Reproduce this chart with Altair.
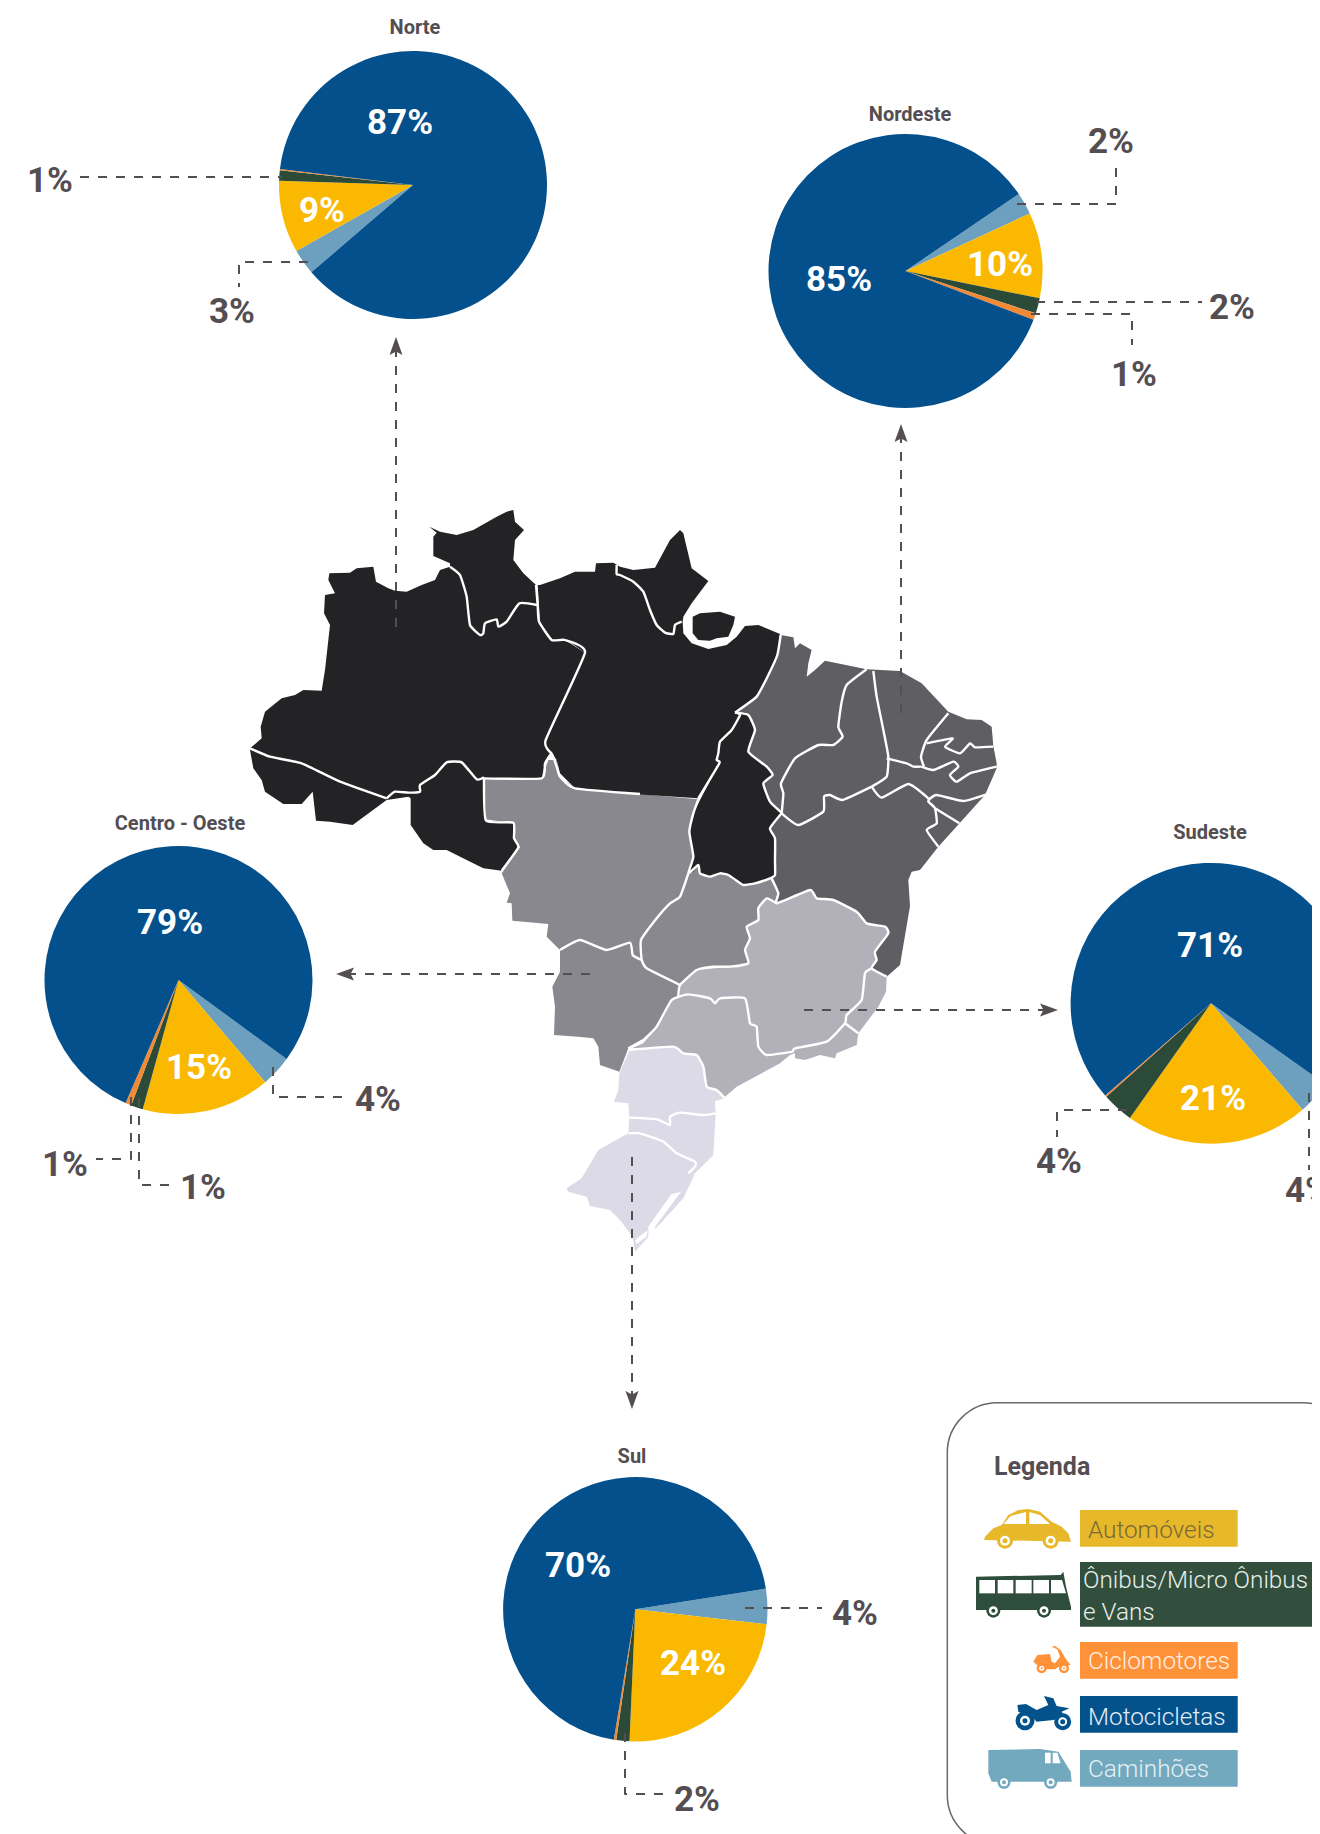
import math
import altair as alt
import pandas as pd

# ---------- colours ----------
BLUE, LIGHT, YELLOW, DARK, ORANGE = "#03508C", "#6DA0BF", "#FAB900", "#2C4A38", "#F08A35"
GREY = "#544E52"
C_NORTE, C_NE, C_CO, C_SE, C_SUL = "#232325", "#5F5E63", "#89888E", "#B2B1B9", "#DBDAE6"

# ---------- pies: shares clockwise, Caminhões, Automóveis, Ônibus, Ciclomotores, Motocicletas ----------
SLICE_COLORS = [LIGHT, YELLOW, DARK, ORANGE, BLUE]
REGIONS = ["Norte", "Nordeste", "Centro - Oeste", "Sudeste", "Sul"]
CENTER_X = [413, 905.5, 178.5, 1211, 635.3]
CENTER_Y = [185, 271, 980, 1003.3, 1609.3]
RADIUS = [134, 137, 134, 140.4, 132.2]
START_PCT = [63.7, 15.5, 35.05, 34.8, 22.5]
SHARES = [
    [3.1, 8.7, 1.25, 0.15, 86.8],
    [2.6, 10.1, 1.8, 0.8, 84.7],
    [3.75, 15.5, 1.44, 0.72, 78.59],
    [3.9, 21.1, 3.6, 0.2, 71.2],
    [4.3, 23.9, 1.6, 0.3, 69.9],
]

# ---------- titles and labels (text, x, y) ----------
TITLES = [("Norte", 415, 27), ("Nordeste", 910, 114), ("Centro - Oeste", 180, 823), ("Sudeste", 1210, 832), ("Sul", 632, 1456)]
WHITE_LABELS = [("87%", 400, 120), ("9%", 322, 208), ("85%", 839, 277), ("10%", 1000, 262), ("79%", 170, 920),
                ("15%", 199, 1065), ("71%", 1210, 943), ("21%", 1213, 1096), ("70%", 578, 1563), ("24%", 693, 1661)]
GREY_LABELS = [("1%", 50, 178), ("3%", 232, 309), ("2%", 1111, 139), ("2%", 1232, 305), ("1%", 1134, 372),
               ("4%", 378, 1097), ("1%", 65, 1162), ("1%", 203, 1185), ("4%", 1059, 1159), ("4%", 1308, 1188),
               ("4%", 855, 1611), ("2%", 697, 1797)]

# ---------- leader lines ----------
LEADERS = [
    [(80, 177), (282, 177)],
    [(308, 262), (239, 262), (239, 287)],
    [(1017, 204), (1116, 204), (1116, 160)],
    [(1036, 302), (1202, 302)],
    [(1031, 314), (1132, 314), (1132, 345)],
    [(273, 1067), (273, 1097), (342, 1097)],
    [(131, 1097), (131, 1159), (96, 1159)],
    [(139, 1098), (139, 1185), (173, 1185)],
    [(1127, 1110), (1057, 1110), (1057, 1137)],
    [(1309, 1093), (1309, 1170)],
    [(745, 1608), (822, 1608)],
    [(625, 1733), (625, 1794), (667, 1794)],
    [(396, 627), (396, 345)],
    [(901, 713), (901, 432)],
    [(590, 974), (344, 974)],
    [(804, 1010), (1050, 1010)],
    [(632, 1157), (632, 1401)],
]
# arrow heads: x, y, angle
ARROWS = [(396, 346, 0), (901, 433, 0), (345, 974, 270), (1049, 1010, 90), (632, 1400, 180)]
ARROW_SHAPE = "M0,-1 L0.72,1 L0,0.62 L-0.72,1 Z"

# ---------- map (crop coordinates at 3x) ----------
Z1, Z2, Z3, Z4, Z5 = (240, 500), (620, 500), (480, 760), (540, 1020), (940, 1400)

def at(origin, pts):
    return [[origin[0] + p[0] / 3, origin[1] + p[1] / 3] for p in pts]

NORTE_WEST = [(30,745),(65,715),(62,680),(75,635),(125,595),(165,585),(190,570),(245,572),(255,510),(270,375),(252,340),(255,285),(285,280),(265,240),(268,220),(330,218),(350,205),(400,200),(408,245),(445,265),(465,272),(500,275),(545,255),(585,240),(600,210),(630,200),(630,190),(580,168),(580,110),(590,98),(568,80),(600,95),(650,105),(700,90),(770,50),(800,35),(820,30),(825,65),(852,90),(825,120),(820,180),(850,220),(888,255),(893,315),(897,365),(935,420),(975,420),(1035,458),(920,720),(935,760),(915,790),(905,835),(732,835),(738,962),(820,968),(822,1015),(835,1042),(785,1112),(730,1105),(680,1080),(620,1050),(580,1050),(550,1030),(512,975),(512,895),(505,890),(440,900),(338,975),(270,965),(228,962),(218,875),(185,912),(130,912),(75,875),(65,840),(40,805),(30,750)]
NORTE_PARA = [(-247,255),(-240,255),(-180,235),(-135,215),(-75,215),(-72,190),(-20,188),(0,200),(40,210),(105,203),(150,120),(180,90),(190,100),(215,205),(265,243),(215,310),(190,350),(188,365),(190,400),(215,430),(265,447),(320,435),(350,410),(375,378),(415,375),(480,402),(472,465),(445,525),(410,590),(345,638),(360,645),(335,690),(300,725),(295,760),(290,780),(298,790),(235,895),(0,880),(-135,865),(-180,820),(-190,780),(-205,760),(-225,720),(-105,458),(-160,420),(-205,420),(-240,365)]
MARAJO = [(218,350),(240,340),(300,335),(345,350),(340,375),(325,410),(290,415),(270,422),(235,420),(218,400)]
TOCANTINS_N = [(345,638),(385,645),(405,690),(385,755),(440,800),(458,825),(430,850),(450,905),(487,940)]
TOCANTINS_S = [(870,205),(885,235),(885,300),(885,345),(870,355),(825,370),(790,375),(770,362),(745,345),(720,340),(690,350),(660,340),(655,315),(640,335),(625,340),(640,290),(628,215),(640,160),(660,120)]
TOCANTINS_W = [(298,790),(290,780),(295,760),(300,725),(335,690),(360,645)]
NE_COAST = [(482,405),(520,412),(525,445),(540,430),(575,450),(565,490),(560,530),(585,510),(615,482),(740,508),(840,513),(905,550),(985,635),(1040,658),(1085,660),(1115,680),(1120,738),(1130,790),(1130,805),(1095,885),(955,1040),(900,1110),(875,1115),(865,1140)]
NE_BAHIA_ABS = [[910, 906], [900, 965], [886.7, 976.7]]
NE_INLAND_S = [(1175,625),(1190,600),(1185,575),(1225,520),(1215,500),(1160,490),(1130,455),(1060,420),(1010,415),(990,390),(890,430),(895,400),(875,355),(885,345),(885,300),(885,235),(870,205)]
NE_INLAND_N = [(487,940),(450,905),(430,850),(458,825),(440,800),(385,755),(405,690),(385,645),(345,638),(410,590),(445,525),(472,465)]
CO = [(10,55),(185,55),(205,0),(230,0),(240,50),(285,85),(655,118),(640,160),(628,215),(640,290),(625,340),(655,315),(660,340),(690,350),(720,340),(745,345),(770,362),(790,375),(825,370),(870,355),(895,400),(890,430),(860,415),(835,445),(835,480),(800,500),(810,535),(795,570),(805,610),(750,620),(700,620),(650,630),(600,675),(600,710),(570,725),(530,800),(490,840),(445,865),(418,935),(360,915),(355,860),(340,835),(295,830),(222,825),(225,740),(217,680),(240,635),(240,570),(200,530),(205,492),(97,482),(95,430),(80,428),(90,400),(65,340),(120,262),(100,235),(100,190),(15,178)]
SE_N = [(890,430),(990,390),(1010,415),(1060,420),(1130,455),(1160,490),(1215,500),(1225,520),(1185,575),(1190,600),(1175,625),(1220,650),(1218,695),(1195,740),(1135,820),(1130,855),(1070,880),(1065,895),(1020,885),(975,900),(945,895),(945,880),(930,885)]
SE_S = [(720,130),(590,200),(555,230),(530,210),(500,200),(490,140),(470,105),(430,100),(400,80),(275,85),(310,70)]
SE_W = [(530,800),(570,725),(600,710),(600,675),(650,630),(750,620),(805,610),(795,570),(810,535),(800,500),(835,480),(835,445),(860,415)]
SUL_MAIN = [(270,88),(400,80),(430,100),(470,105),(490,140),(500,200),(530,210),(557,235),(525,243),(527,280),(520,405),(465,460),(425,515),(395,522),(360,570),(325,620),(325,650),(285,695),(278,650),(240,600),(210,570),(150,558),(140,530),(85,515),(80,505),(125,475),(175,390),(265,340),(268,295),(265,250),(222,245),(235,210),(238,160)]
SUL_STRIP = [(465,462),(430,535),(345,628),(345,620),(420,520)]
LAGOA = [(285,660),(310,640),(323,632),(320,650),(290,672)]

BORDERS = [
    at(Z1, [(630,200),(660,225),(680,290),(690,375),(720,405),(730,400),(735,370),(770,358),(775,380),(800,365),(838,310),(892,315)]),
    at(Z1, [(888,255),(893,315),(897,365),(935,420),(975,420),(1035,458),(917,720),(935,760)]),
    at(Z1, [(30,745),(90,770),(185,790),(300,845),(440,895)]),
    at(Z1, [(440,895),(465,875),(505,878),(540,875),(540,855),(585,825),(620,787),(665,787),(710,838),(732,832)]),
    at(Z1, [(732,835),(905,835),(915,790),(935,760),(950,800),(960,830),(1005,865),(1200,882)]),
    at(Z1, [(732,835),(738,962),(820,968),(822,1015),(835,1042),(785,1112)]),
    at(Z2, [(-10,195),(-10,222),(0,225),(40,245),(70,275),(90,330),(110,375),(135,398),(160,402),(165,375),(185,365)]),
    at(Z2, [(345,638),(360,645),(335,690),(300,725),(295,760),(290,780),(298,790),(235,895)]),
    at(Z3, [(655,118),(640,160),(628,215),(640,290),(625,340),(655,315),(660,340),(690,350),(720,340),(745,345),(770,362),(790,375),(825,370),(870,355),(885,345),(885,300),(885,235),(870,205),(905,160)]),
    at(Z2, [(345,638),(385,645),(405,690),(385,755),(440,800),(458,825),(430,850),(450,905),(487,940)]),
    at(Z2, [(345,638),(410,590),(445,525),(472,465),(482,405)]),
    at(Z2, [(740,508),(680,555),(665,605),(655,680),(668,710),(640,735),(595,735),(525,775),(483,850),(490,880),(485,940)]),
    at(Z2, [(760,513),(770,590),(790,690),(805,770),(800,830),(755,860)]),
    at(Z2, [(485,940),(535,975),(610,935),(612,890),(630,885),(668,900),(755,860)]),
    at(Z2, [(755,860),(785,893),(865,852),(925,895),(925,905),(945,925),(950,970),(920,990),(955,1040)]),
    at(Z2, [(925,900),(950,885),(1030,903),(1100,883)]),
    at(Z2, [(945,925),(1018,970)]),
    at(Z2, [(800,775),(860,790),(880,800),(905,800)]),
    at(Z2, [(985,640),(920,720),(903,770),(912,800)]),
    at(Z2, [(905,800),(940,810),(1000,785),(1015,800),(990,825),(1010,845),(1050,820),(1130,800)]),
    at(Z2, [(920,730),(998,715),(975,740),(1020,760),(1050,730),(1065,742),(1120,740)]),
    at(Z3, [(875,355),(895,400),(890,430),(990,390),(1010,415),(1060,420),(1130,455),(1160,490),(1215,500),(1225,520),(1185,575),(1190,600),(1175,625),(1220,650)]),
    at(Z3, [(890,430),(860,415),(835,445),(835,480),(800,500),(810,535),(795,570),(805,610),(750,620),(700,620),(650,630),(600,675),(595,710)]),
    at(Z3, [(625,340),(600,410),(570,430),(530,475),(483,540),(485,600)]),
    at(Z3, [(240,570),(300,540),(380,570),(450,548),(458,585),(485,600)]),
    at(Z3, [(485,600),(500,625),(600,675)]),
    at(Z3, [(445,865),(490,840),(530,800),(575,720),(625,703),(690,715),(705,730),(720,715),(795,715),(810,790),(830,800),(835,860),(860,885),(940,875)]),
    at(Z3, [(940,875),(945,865),(1040,845),(1095,790),(1100,765),(1145,720),(1155,640),(1175,625)]),
    at(Z3, [(1095,790),(1135,820)]),
    at(Z4, [(265,90),(400,80),(430,100),(470,105),(490,140),(500,200),(530,210),(555,235)]),
    at(Z4, [(268,293),(350,298),(390,315),(390,290),(420,278),(490,285),(527,280)]),
    at(Z4, [(265,340),(300,340),(370,365),(410,400),(465,425),(465,440),(445,460)]),
]

# ---------- legend ----------
LEGEND_BOX = (947.3, 1402.7, 1353, 1845)
LEGEND_BARS = [
    ("Automóveis", 1080, 1237.7, 1510, 1546.7, "#E8B82B"),
    ("Ônibus", 1080, 1316, 1562, 1626.7, "#324E3C"),
    ("Ciclomotores", 1080, 1237.7, 1642, 1678.7, "#FF9138"),
    ("Motocicletas", 1080, 1237.7, 1696, 1732.7, "#03528C"),
    ("Caminhões", 1080, 1237.7, 1750, 1786.7, "#73A9BF"),
]
LEGEND_TEXT = [
    ("Automóveis", 1088, 1530, "#7A6838"),
    ("Ônibus/Micro Ônibus", 1083, 1580, "#E8EEEA"),
    ("e Vans", 1083, 1612, "#E8EEEA"),
    ("Ciclomotores", 1088, 1661, "#FFF0E2"),
    ("Motocicletas", 1088, 1717, "#E3EDF5"),
    ("Caminhões", 1088, 1769, "#E6F0F4"),
]
ICONS = [
    (at(Z5, [(132,420),(135,410),(160,385),(185,375),(205,345),(235,330),(265,327),(300,335),(335,365),(365,380),(385,400),(393,425)]), "#E8B82B"),
    (at(Z5, [(190,372),(212,348),(258,336),(258,372)]), "#FFFFFF"),
    (at(Z5, [(268,336),(300,345),(330,372),(268,372)]), "#FFFFFF"),
    (at(Z5, [(108,530),(362,525),(370,515),(378,560),(393,620),(393,630),(108,630)]), "#2F4D3B"),
    (at(Z5, [(118,540),(165,540),(165,580),(118,580)]), "#FFFFFF"),
    (at(Z5, [(173,540),(220,540),(220,580),(173,580)]), "#FFFFFF"),
    (at(Z5, [(227,540),(275,540),(275,580),(227,580)]), "#FFFFFF"),
    (at(Z5, [(280,540),(327,540),(327,580),(280,580)]), "#FFFFFF"),
    (at(Z5, [(333,540),(366,540),(378,580),(333,580)]), "#FFFFFF"),
    (at(Z5, [(280,785),(292,765),(330,762),(335,785),(345,790),(360,770),(352,748),(335,740),(345,738),(362,750),(378,778),(392,795),(360,798),(345,808),(305,808)]), "#FF9138"),
    (at(Z5, [(232,915),(258,912),(290,930),(325,915),(312,888),(340,895),(350,918),(388,925),(365,935),(375,950),(340,960),(290,965),(280,955),(255,945),(235,935)]), "#03528C"),
    (at(Z5, [(145,1050),(300,1047),(355,1055),(392,1115),(395,1145),(155,1145),(145,1120)]), "#73A9BF"),
    (at(Z5, [(315,1058),(332,1058),(332,1090),(315,1090)]), "#FFFFFF"),
    (at(Z5, [(338,1058),(352,1058),(362,1090),(338,1090)]), "#FFFFFF"),
]
# wheel centre (crop x, y), diameters outer/ring/hub (px), colour
WHEELS = [
    (195,422,16,10,5,"#E8B82B"), (332,422,16,10,5,"#E8B82B"),
    (160,632,14,9,4,"#2F4D3B"), (312,632,14,9,4,"#2F4D3B"),
    (305,805,10,5,2,"#FF9138"), (372,805,10,5,2,"#FF9138"),
    (255,962,19,10,5,"#03528C"), (368,965,17,9,5,"#03528C"),
    (192,1147,13,8,4,"#73A9BF"), (332,1147,13,8,4,"#73A9BF"),
]

# ---------- scales ----------
XS = alt.Scale(domain=[8, 1312], range=[0, 1304], nice=False, zero=False)
YS = alt.Scale(domain=[8, 1834], range=[0, 1826], nice=False, zero=False)
X = lambda f="x": alt.X(f"{f}:Q", scale=XS, axis=None, title=None)
Y = lambda f="y": alt.Y(f"{f}:Q", scale=YS, axis=None, title=None)


def poly_layer(polys):
    feats = [{"type": "Feature", "properties": {"c": c},
              "geometry": {"type": "Polygon", "coordinates": [p + [p[0]]]}} for p, c in polys]
    return (alt.Chart(alt.Data(values=feats))
            .mark_geoshape(stroke=None)
            .project(type="identity", scale=1, translate=[-8, -8])
            .encode(color=alt.Color("properties.c:N", scale=None, legend=None)))


def line_layer(lines, color, width, **kw):
    rows = [{"id": i, "seq": j, "x": p[0], "y": p[1]} for i, l in enumerate(lines) for j, p in enumerate(l)]
    return (alt.Chart(pd.DataFrame(rows))
            .mark_line(color=color, strokeWidth=width, strokeJoin="round", **kw)
            .encode(x=X(), y=Y(), detail="id:N", order="seq:Q"))


def text_layer(rows, size, weight, color=None, font="Roboto", align="center", dy=0):
    df = pd.DataFrame(rows, columns=["t", "x", "y"] + (["c"] if color is None else []))
    kw = {"color": color} if color else {}
    ch = alt.Chart(df).mark_text(font=font, fontSize=size, fontWeight=weight, align=align, baseline="middle", dy=dy, **kw)
    enc = dict(x=X(), y=Y(), text="t:N")
    if color is None:
        enc["color"] = alt.Color("c:N", scale=None, legend=None)
    return ch.encode(**enc)


# ---------- build ----------
map_polys = [
    (at(Z4, SUL_MAIN), C_SUL), (at(Z4, SUL_STRIP), C_SUL), (at(Z4, LAGOA), "#FFFFFF"),
    (at(Z3, SE_N) + at(Z4, SE_S) + at(Z3, SE_W), C_SE),
    (at(Z3, CO), C_CO),
    (at(Z2, NE_COAST) + NE_BAHIA_ABS + at(Z3, NE_INLAND_S) + at(Z2, NE_INLAND_N), C_NE),
    (at(Z1, NORTE_WEST), C_NORTE), (at(Z2, NORTE_PARA), C_NORTE), (at(Z2, MARAJO), C_NORTE),
    (at(Z2, TOCANTINS_N) + at(Z3, TOCANTINS_S) + at(Z2, TOCANTINS_W), C_NORTE),
]

slices = []
for r, cx, cy, rad, st, sh in zip(REGIONS, CENTER_X, CENTER_Y, RADIUS, START_PCT, SHARES):
    t = st
    for v, c in zip(sh, SLICE_COLORS):
        slices.append({"region": r, "x": cx, "y": cy, "r": rad, "t0": t, "t1": t + v, "c": c})
        t += v
pies = (alt.Chart(pd.DataFrame(slices)).mark_arc(stroke=None)
        .encode(x=X(), y=Y(),
                radius=alt.Radius("r:Q", scale=None),
                theta=alt.Theta("t0:Q", stack=None, scale=alt.Scale(domain=[0, 100], range=[0, 2 * math.pi])),
                theta2=alt.Theta2("t1:Q"),
                color=alt.Color("c:N", scale=None, legend=None)))

arrows = (alt.Chart(pd.DataFrame(ARROWS, columns=["x", "y", "a"]))
          .mark_point(shape=ARROW_SHAPE, filled=True, opacity=1, color=GREY, size=324)
          .encode(x=X(), y=Y(), angle=alt.Angle("a:Q", scale=None)))

box = (alt.Chart(pd.DataFrame([dict(zip(["x", "y", "x2", "y2"], LEGEND_BOX))]))
       .mark_rect(cornerRadius=50, fill="#FFFFFF", stroke="#6B6669", strokeWidth=1.5)
       .encode(x=X(), y=Y(), x2="x2:Q", y2="y2:Q"))

bars = (alt.Chart(pd.DataFrame(LEGEND_BARS, columns=["n", "x", "x2", "y", "y2", "c"]))
        .mark_rect()
        .encode(x=X(), y=Y(), x2="x2:Q", y2="y2:Q", color=alt.Color("c:N", scale=None, legend=None)))

wheel_rows = []
for wx, wy, d1, d2, d3, c in WHEELS:
    px = at(Z5, [(wx, wy)])[0]
    wheel_rows += [{"x": px[0], "y": px[1], "s": d1 * d1, "c": c, "k": 0},
                   {"x": px[0], "y": px[1], "s": d2 * d2, "c": "#FFFFFF", "k": 1},
                   {"x": px[0], "y": px[1], "s": d3 * d3, "c": c, "k": 2}]
wheels = (alt.Chart(pd.DataFrame(wheel_rows))
          .mark_circle(opacity=1)
          .encode(x=X(), y=Y(), size=alt.Size("s:Q", scale=None, legend=None),
                  color=alt.Color("c:N", scale=None, legend=None), order="k:Q"))

chart = alt.layer(
    poly_layer(map_polys),
    line_layer(BORDERS, "#FFFFFF", 2.4, interpolate="cardinal", tension=0.55),
    pies,
    line_layer(LEADERS, GREY, 2, strokeDash=[9, 9]),
    arrows,
    text_layer(TITLES, 20, 700, GREY, dy=1),
    text_layer(WHITE_LABELS, 35, 700, "#FFFFFF", dy=2.5),
    text_layer(GREY_LABELS, 35, 700, GREY, dy=2.5),
    box,
    bars,
    poly_layer(ICONS),
    wheels,
    text_layer([("Legenda", 994, 1466)], 25, 700, GREY, align="left", dy=1),
    text_layer(LEGEND_TEXT, 24.3, 300, None, align="left", dy=1),
).properties(
    width=1304, height=1826, padding=0,
    autosize=alt.AutoSizeParams(type="none", contains="padding"),
    background="#FFFFFF",
).configure_view(stroke=None)

chart.save("out.html", embed_options={"renderer": "svg", "actions": False})
